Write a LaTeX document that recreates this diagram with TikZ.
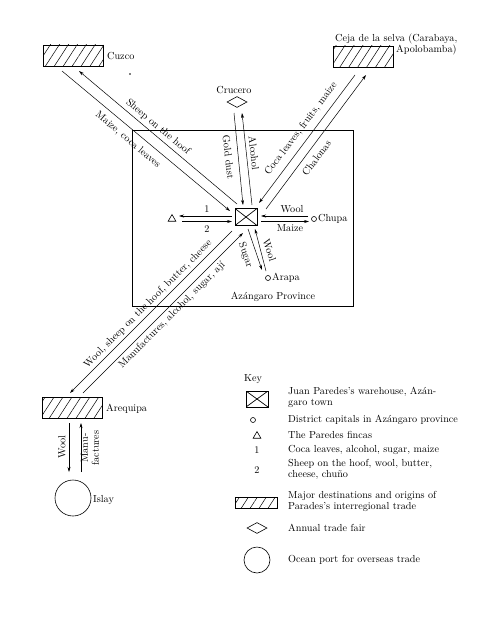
\documentclass[tikz,border=0pt]{standalone}
\usetikzlibrary{patterns.meta,arrows.meta,shapes.geometric}
\newcommand\diagfont{\fontsize{10.2}{11}\selectfont}
\tikzset{
  lab/.style={font=\diagfont, inner sep=0pt},
  arr/.style={-{Stealth[length=5pt,width=3pt]}, line width=0.5pt},
  hatchbox/.style={draw, line width=0.7pt, pattern={Lines[angle=57,distance=7.5pt,line width=0.5pt]}, minimum width=60pt, minimum height=21pt, inner sep=0pt},
  ware/.style={draw, line width=0.7pt, minimum width=22pt, minimum height=17pt, inner sep=0pt,
    path picture={\draw (path picture bounding box.north west) -- (path picture bounding box.south east)
      (path picture bounding box.north east) -- (path picture bounding box.south west);}},
  fair/.style={draw, diamond, shape aspect=2, minimum width=20pt, minimum height=11pt, inner sep=0pt, line width=0.6pt},
  dcap/.style={draw, circle, minimum size=5pt, inner sep=0pt, line width=0.6pt},
  finca/.style={draw, regular polygon, regular polygon sides=3, minimum size=9pt, inner sep=0pt, line width=0.6pt},
  port/.style={draw, circle, minimum size=36pt, inner sep=0pt, line width=0.6pt},
}
\begin{document}
\begin{tikzpicture}[x=1pt,y=-1pt]
\useasboundingbox (0,0) rectangle (486,618);
% province
\draw[line width=0.7pt] (132,130) rectangle (353,306);
\node[lab] (prov) at (273,297) {Azángaro Province};
% main nodes
\node[ware] (W) at (246,217) {};
\node[hatchbox] (cuzco) at (73.5,55.5) {};
\node[lab, anchor=west] (cuzcol) at (107,56) {Cuzco};
\fill (130,74) circle (0.9pt);
\node[hatchbox] (ceja) at (363,56.5) {};
\node[lab, anchor=west] (cejal1) at (335,39) {Ceja de la selva (Carabaya,};
\node[lab, anchor=west] (cejal2) at (396,50) {Apolobamba)};
\node[hatchbox] (areq) at (72,407.5) {};
\node[lab, anchor=west] (areql) at (106,409) {Arequipa};
\node[fair] (cru) at (237,102) {};
\node[lab] (crul) at (234,90) {Crucero};
\node[finca] (fin) at (172,219) {};
\node[dcap] (chupa) at (314,219) {};
\node[lab, anchor=west] (chupal) at (318,219) {Chupa};
\node[dcap] (arapa) at (268,278) {};
\node[lab, anchor=west] (arapal) at (272,278) {Arapa};
\node[port] (islay) at (73,498) {};
\node[lab, anchor=west] (islayl) at (93,500) {Islay};
% connector end points
\coordinate (c1s) at (62,71);   \coordinate (c1e) at (230,211);
\coordinate (c2s) at (237,204); \coordinate (c2e) at (79,71);
\coordinate (g1s) at (234,113); \coordinate (g1e) at (243,205);
\coordinate (g2s) at (252,205); \coordinate (g2e) at (242,113);
\coordinate (j1s) at (355,75);  \coordinate (j1e) at (259,203);
\coordinate (j2s) at (266,209); \coordinate (j2e) at (366,75);
\coordinate (t1s) at (232,216); \coordinate (t1e) at (179,216);
\coordinate (t2s) at (182,221.5); \coordinate (t2e) at (232,221.5);
\coordinate (u1s) at (308,216); \coordinate (u1e) at (261,216);
\coordinate (u2s) at (261,221.5); \coordinate (u2e) at (309,221.5);
\coordinate (a1s) at (248,229); \coordinate (a1e) at (262,270);
\coordinate (a2s) at (266,271); \coordinate (a2e) at (255,229);
\coordinate (r1s) at (232,231); \coordinate (r1e) at (70,393);
\coordinate (r2s) at (83,393);  \coordinate (r2e) at (243,233);
\coordinate (i1s) at (69,423);  \coordinate (i1e) at (69,472);
\coordinate (i2s) at (81,472);  \coordinate (i2e) at (81,423);
% connectors
\draw[arr] (c1s) -- (c1e);
\draw[arr] (c2s) -- (c2e);
\draw[arr] (g1s) -- (g1e);
\draw[arr] (g2s) -- (g2e);
\draw[arr] (j1s) -- (j1e);
\draw[arr] (j2s) -- (j2e);
\draw[arr] (t1s) -- (t1e);
\draw[arr] (t2s) -- (t2e);
\draw[arr] (u1s) -- (u1e);
\draw[arr] (u2s) -- (u2e);
\draw[arr] (a1s) -- (a1e);
\draw[arr] (a2s) -- (a2e);
\draw[arr] (r1s) -- (r1e);
\draw[arr] (r2s) -- (r2e);
\draw[arr] (i1s) -- (i1e);
\draw[arr] (i2s) -- (i2e);
% connector labels
\node[lab, rotate=-40] at (158,127) {Sheep on the hoof};
\node[lab, rotate=-40] at (128,140) {Maize, coca leaves};
\node[lab, rotate=-84] at (228.5,157) {Gold dust};
\node[lab, rotate=-84] at (254,153) {Alcohol};
\node[lab, rotate=53] at (301,129) {Coca leaves, fruits, maize};
\node[lab, rotate=53] at (316.5,158) {Chalonas};
\node[lab] at (207,209.5) {1};
\node[lab] at (207,229) {2};
\node[lab] at (292,209.5) {Wool};
\node[lab] at (290,228.5) {Maize};
\node[lab, rotate=-71] at (245.5,255) {Sugar};
\node[lab, rotate=-72] at (269.5,250) {Wool};
\node[lab, rotate=45] at (148,304) {Wool, sheep on the hoof, butter, cheese};
\node[lab, rotate=45] at (172,315) {Manufactures, alcohol, sugar, ají};
\node[lab, rotate=90] at (62,447) {Wool};
\node[lab, rotate=90, align=center] at (90,448) {Manu-\\factures};
% key
\node[lab] (key) at (253,379) {Key};
\node[ware, minimum height=16pt] (kw) at (257,399) {};
\node[dcap] (kc) at (253,420) {};
\node[finca] (kt) at (257,436) {};
\node[lab] (k1) at (257,450) {1};
\node[lab] (k2) at (257,470) {2};
\node[hatchbox, minimum width=42pt, minimum height=11pt] (kh) at (256,502.5) {};
\node[fair] (kd) at (257,528) {};
\node[port, minimum size=26pt] (kp) at (257,560) {};
\node[lab, anchor=west, align=left] at (288,397.5) {Juan Paredes's warehouse, Azán-\\garo town};
\node[lab, anchor=west] at (288,420) {District capitals in Azángaro province};
\node[lab, anchor=west] at (288,435) {The Paredes fincas};
\node[lab, anchor=west] at (288,450) {Coca leaves, alcohol, sugar, maize};
\node[lab, anchor=west, align=left] at (288,469.5) {Sheep on the hoof, wool, butter,\\cheese, chuño};
\node[lab, anchor=west, align=left] at (288,501.5) {Major destinations and origins of\\Parades's interregional trade};
\node[lab, anchor=west] at (288,528) {Annual trade fair};
\node[lab, anchor=west] at (288,560) {Ocean port for overseas trade};
\end{tikzpicture}
\end{document}
